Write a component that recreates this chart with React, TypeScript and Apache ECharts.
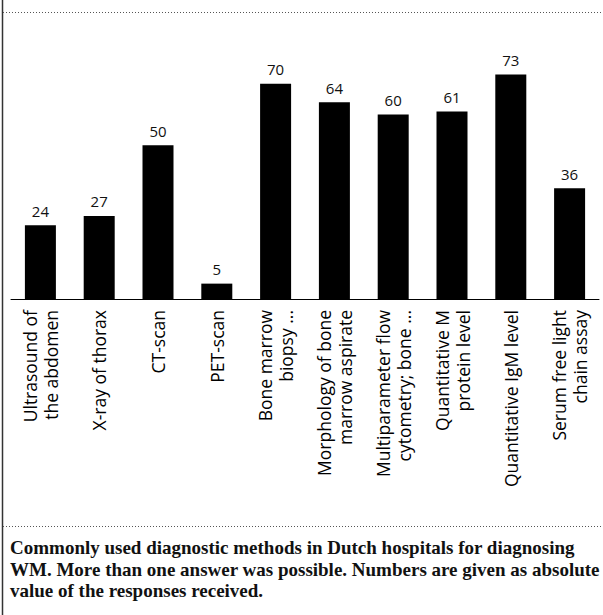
import React, { useEffect, useRef } from "react";
import * as echarts from "echarts";

const categories = [
  "Ultrasound of\nthe abdomen",
  "X-ray of thorax",
  "CT-scan",
  "PET-scan",
  "Bone marrow\nbiopsy ...",
  "Morphology of bone\nmarrow aspirate",
  "Multiparameter flow\ncytometry; bone ...",
  "Quantitative M\nprotein level",
  "Quantitative IgM level",
  "Serum free light\nchain assay",
];
const values = [24, 27, 50, 5, 70, 64, 60, 61, 73, 36];
const captionLines = [
  "Commonly used diagnostic methods in Dutch hospitals for diagnosing",
  "WM. More than one answer was possible. Numbers are given as absolute",
  "value of the responses received.",
];

export default function App() {
  const ref = useRef<HTMLDivElement>(null);
  useEffect(() => {
    document.body.style.margin = "0";
    const chart = echarts.init(ref.current!, null, { renderer: "svg" });
    chart.setOption({
      animation: false,
      backgroundColor: "#fff",
      grid: { left: 11, right: 4, top: 53, bottom: 316, containLabel: false },
      xAxis: {
        type: "category",
        data: categories,
        axisLine: { lineStyle: { color: "#000", width: 1 } },
        axisTick: { show: false },
        axisLabel: {
          interval: 0,
          rotate: 90,
          margin: 11,
          fontFamily: "Open Sans",
          fontSize: 17.5,
          lineHeight: 21,
          color: "#000",
        },
      },
      yAxis: { type: "value", min: 0, max: 80, show: false },
      series: [
        {
          type: "bar",
          data: values,
          barWidth: 31,
          itemStyle: { color: "#000" },
          label: {
            show: true,
            position: "top",
            distance: 7,
            fontFamily: "Open Sans",
            fontSize: 15,
            color: "#111",
          },
        },
      ],
      graphic: [
        {
          type: "line",
          shape: { x1: 2.5, y1: 0, x2: 2.5, y2: 615 },
          style: { stroke: "#333", lineWidth: 1.5 },
        },
        {
          type: "line",
          shape: { x1: 3, y1: 12.5, x2: 603, y2: 12.5 },
          style: { stroke: "#555", lineWidth: 1, lineDash: [1, 2] },
        },
        {
          type: "line",
          shape: { x1: 3, y1: 526.5, x2: 603, y2: 526.5 },
          style: { stroke: "#555", lineWidth: 1, lineDash: [1, 2] },
        },
        {
          type: "text",
          left: 10,
          top: 537,
          style: {
            text: captionLines.join("\n"),
            font: "bold 19px 'Liberation Serif', serif",
            lineHeight: 21.5,
            fill: "#111",
          },
        },
      ],
    });
    return () => chart.dispose();
  }, []);
  return <div ref={ref} style={{ width: 603, height: 615 }} />;
}
